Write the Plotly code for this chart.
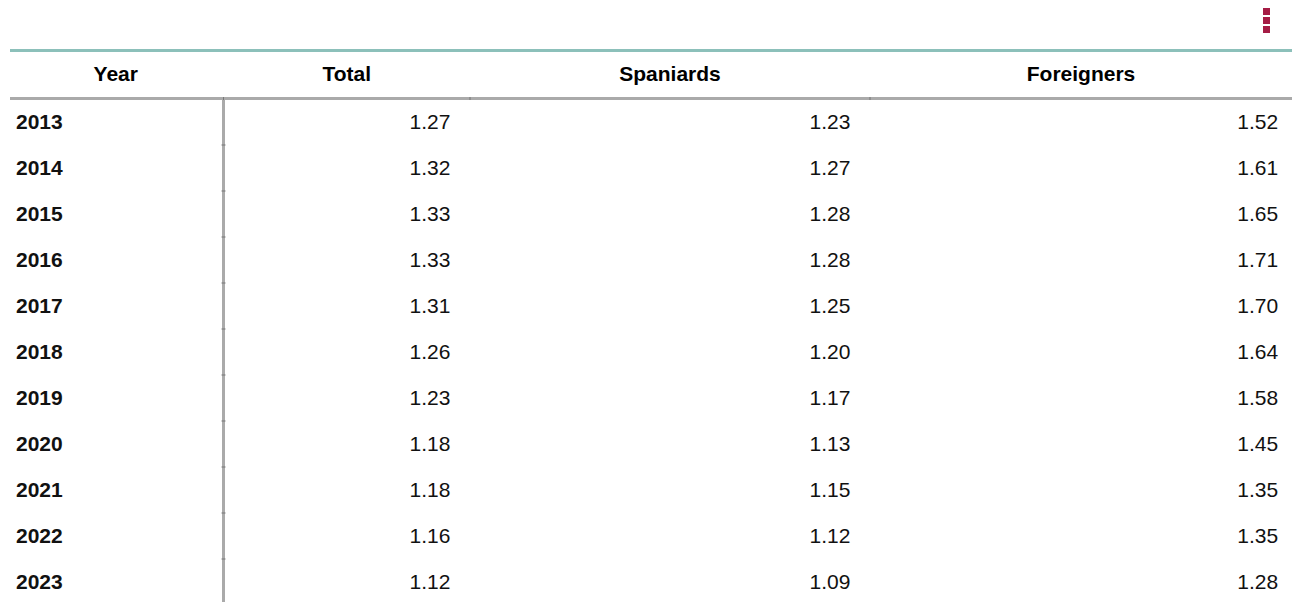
import plotly.graph_objects as go

# ---- data ----
years = [2013, 2014, 2015, 2016, 2017, 2018, 2019, 2020, 2021, 2022, 2023]
total = [1.27, 1.32, 1.33, 1.33, 1.31, 1.26, 1.23, 1.18, 1.18, 1.16, 1.12]
spaniards = [1.23, 1.27, 1.28, 1.28, 1.25, 1.20, 1.17, 1.13, 1.15, 1.12, 1.09]
foreigners = [1.52, 1.61, 1.65, 1.71, 1.70, 1.64, 1.58, 1.45, 1.35, 1.35, 1.28]
headers = ["Year", "Total", "Spaniards", "Foreigners"]

W, H = 1292, 602
FONT = "Liberation Sans, Arial, sans-serif"
FS = 21
NB = "\u00a0\u00a0"


def px(x):
    return x / W


def py(y):
    return 1 - y / H


TABLE_LEFT = 8
TABLE_TOP = 57
HEADER_H = 48
ROW_H = 46
colwidths = [215.5, 246.5, 400, 422]

cells = [
    [str(y) for y in years],
    [f"{v:.2f}{NB}" for v in total],
    [f"{v:.2f}{NB}" for v in spaniards],
    [f"{v:.2f}\u00a0" for v in foreigners],
]

fig = go.Figure(
    go.Table(
        domain=dict(x=[px(TABLE_LEFT), 1], y=[0, py(TABLE_TOP)]),
        columnwidth=colwidths,
        header=dict(
            values=headers,
            align="center",
            height=HEADER_H,
            fill=dict(color="rgba(0,0,0,0)"),
            line=dict(color="rgba(0,0,0,0)", width=0),
            font=dict(family=FONT, size=FS, color="#000000", weight="bold"),
        ),
        cells=dict(
            values=cells,
            align=["left", "right", "right", "right"],
            height=ROW_H,
            fill=dict(color="rgba(0,0,0,0)"),
            line=dict(color="rgba(0,0,0,0)", width=0),
            font=dict(family=FONT, size=FS, color="#111111",
                      weight=["bold", "normal", "normal", "normal"]),
        ),
    )
)

shapes = []
# teal top rule
shapes.append(dict(type="line", xref="paper", yref="paper", x0=px(10), x1=1,
                   y0=py(50.5), y1=py(50.5), line=dict(color="#8cc0ba", width=3), layer="below"))
# gray rule under header
shapes.append(dict(type="line", xref="paper", yref="paper", x0=px(10), x1=1,
                   y0=py(98.5), y1=py(98.5), line=dict(color="#aaaaaa", width=3), layer="below"))
# vertical rule after Year column
xv = TABLE_LEFT + colwidths[0]
shapes.append(dict(type="line", xref="paper", yref="paper", x0=px(xv), x1=px(xv),
                   y0=py(100), y1=0, line=dict(color="#aaaaaa", width=3), layer="below"))
# small ticks at column boundaries on header rule
edge = TABLE_LEFT
for w in colwidths[:-1]:
    edge += w
    shapes.append(dict(type="line", xref="paper", yref="paper", x0=px(edge), x1=px(edge),
                       y0=py(97), y1=py(100), line=dict(color="#777777", width=1), layer="below"))
# small ticks at row boundaries on vertical rule
for i in range(1, len(years)):
    yb = 99 + i * ROW_H
    shapes.append(dict(type="line", xref="paper", yref="paper", x0=px(xv - 2), x1=px(xv + 2),
                       y0=py(yb), y1=py(yb), line=dict(color="#777777", width=1), layer="below"))
# menu icon (three dots)
for top in (8, 17, 26):
    shapes.append(dict(type="rect", xref="paper", yref="paper", x0=px(1263), x1=px(1270),
                       y0=py(top), y1=py(top + 7), line=dict(width=0),
                       fillcolor="#a51c45", layer="above"))

fig.update_layout(
    width=W, height=H,
    margin=dict(l=0, r=0, t=0, b=0),
    paper_bgcolor="white",
    plot_bgcolor="white",
    shapes=shapes,
)

fig.write_html(
    "out.html",
    config={"displayModeBar": False},
    post_script="document.body.style.margin='0';document.body.style.overflow='hidden';",
)
